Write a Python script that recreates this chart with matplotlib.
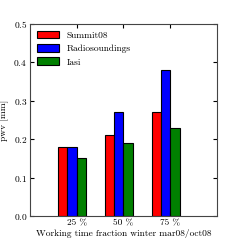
import numpy as np
import matplotlib
matplotlib.use('Agg')
import matplotlib.pyplot as plt

plt.rcParams['font.family'] = 'cmr10'
plt.rcParams['axes.formatter.use_mathtext'] = True

fractions = ['25 %', '50 %', '75 %']
summit = [0.18, 0.21, 0.27]
radio = [0.18, 0.27, 0.38]
iasi = [0.15, 0.19, 0.23]

ind = np.arange(1, len(fractions) + 1)
w = 0.2

fig = plt.figure(figsize=(2.4, 2.4), dpi=100)
ax = fig.add_axes([0.125, 0.1, 0.779, 0.8])

ax.bar(ind - 2 * w, summit, w, align='edge', color='r', edgecolor='k', linewidth=0.8, label='Summit08')
ax.bar(ind - w, radio, w, align='edge', color='b', edgecolor='k', linewidth=0.8, label='Radiosoundings')
ax.bar(ind, iasi, w, align='edge', color='g', edgecolor='k', linewidth=0.8, label='Iasi')

ax.set_xlim(0, 4)
ax.set_ylim(0, 0.5)
ax.set_xticks(ind)
ax.set_xticklabels(fractions)
ax.set_yticks(np.arange(0, 0.51, 0.1))
ax.tick_params(direction='in', top=True, right=True, labelsize=6.8, length=3, pad=2)
for s in ax.spines.values():
    s.set_color('#444444')

ax.set_ylabel('pwv [mm]', fontsize=6.8, labelpad=3)
ax.set_xlabel('Working time fraction winter mar08/oct08', fontsize=6.8, labelpad=1)
ax.legend(loc='upper left', fontsize=6.8, frameon=False, handlelength=2.4, handleheight=0.9,
          labelspacing=0.45, borderaxespad=0.3)

fig.savefig('out.png', dpi=100)
